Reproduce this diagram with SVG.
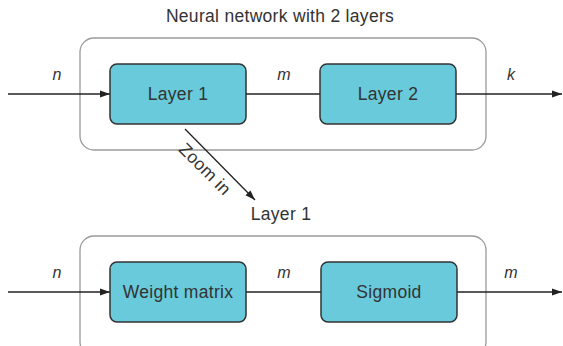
<svg xmlns="http://www.w3.org/2000/svg" width="563" height="346" viewBox="0 0 563 346">
<defs>
<marker id="arr" markerWidth="10" markerHeight="8" refX="10" refY="4" orient="auto" markerUnits="userSpaceOnUse">
<path d="M0,0.5 L10,4 L0,7.5 Z" fill="#222"/>
</marker>
<style>
.outer{fill:none;stroke:#9a9a9a;stroke-width:1.3}
.box{fill:#68cadb;stroke:#333;stroke-width:1.5}
.lbl{font-family:"Liberation Sans",Arial,sans-serif;font-size:17.5px;fill:#333;text-anchor:middle;letter-spacing:0.3px}
.var{font-family:"Liberation Sans",Arial,sans-serif;font-size:16px;font-style:italic;fill:#333;text-anchor:middle}
.edge{stroke:#222;stroke-width:1.3;fill:none}
</style>
</defs>
<rect fill="#fff" width="563" height="346"/>
<g id="title"><text class="lbl" x="280" y="22">Neural network with 2 layers</text></g>
<g id="container-top"><rect class="outer" x="80" y="38" width="406" height="112" rx="14"/></g>
<g id="container-bottom"><rect class="outer" x="80" y="236" width="406" height="120" rx="14"/></g>
<g id="connectors">
<line class="edge" x1="8" y1="94" x2="110" y2="94" marker-end="url(#arr)"/>
<line class="edge" x1="246" y1="94" x2="320" y2="94"/>
<line class="edge" x1="456" y1="94" x2="562" y2="94" marker-end="url(#arr)"/>
<line class="edge" x1="185" y1="129" x2="255" y2="200" marker-end="url(#arr)"/>
<line class="edge" x1="8" y1="292" x2="110" y2="292" marker-end="url(#arr)"/>
<line class="edge" x1="246" y1="292" x2="321" y2="292"/>
<line class="edge" x1="457" y1="292" x2="562" y2="292" marker-end="url(#arr)"/>
<text class="var" x="57" y="80">n</text>
<text class="var" x="284" y="80">m</text>
<text class="var" x="511" y="80">k</text>
<text class="var" x="57" y="278">n</text>
<text class="var" x="284" y="278">m</text>
<text class="var" x="511" y="278">m</text>
<text class="lbl" transform="translate(205,169) rotate(45)" x="0" y="6">Zoom in</text>
</g>
<g id="layer1"><rect class="box" x="110" y="64" width="136" height="60" rx="7"/><text class="lbl" x="178" y="100">Layer 1</text></g>
<g id="layer2"><rect class="box" x="320" y="64" width="136" height="60" rx="7"/><text class="lbl" x="388" y="100">Layer 2</text></g>
<g id="layer1-label"><text class="lbl" x="281" y="220">Layer 1</text></g>
<g id="weight-matrix"><rect class="box" x="110" y="262" width="136" height="60" rx="7"/><text class="lbl" x="178" y="298">Weight matrix</text></g>
<g id="sigmoid"><rect class="box" x="321" y="262" width="136" height="60" rx="7"/><text class="lbl" x="389" y="298">Sigmoid</text></g>
</svg>
